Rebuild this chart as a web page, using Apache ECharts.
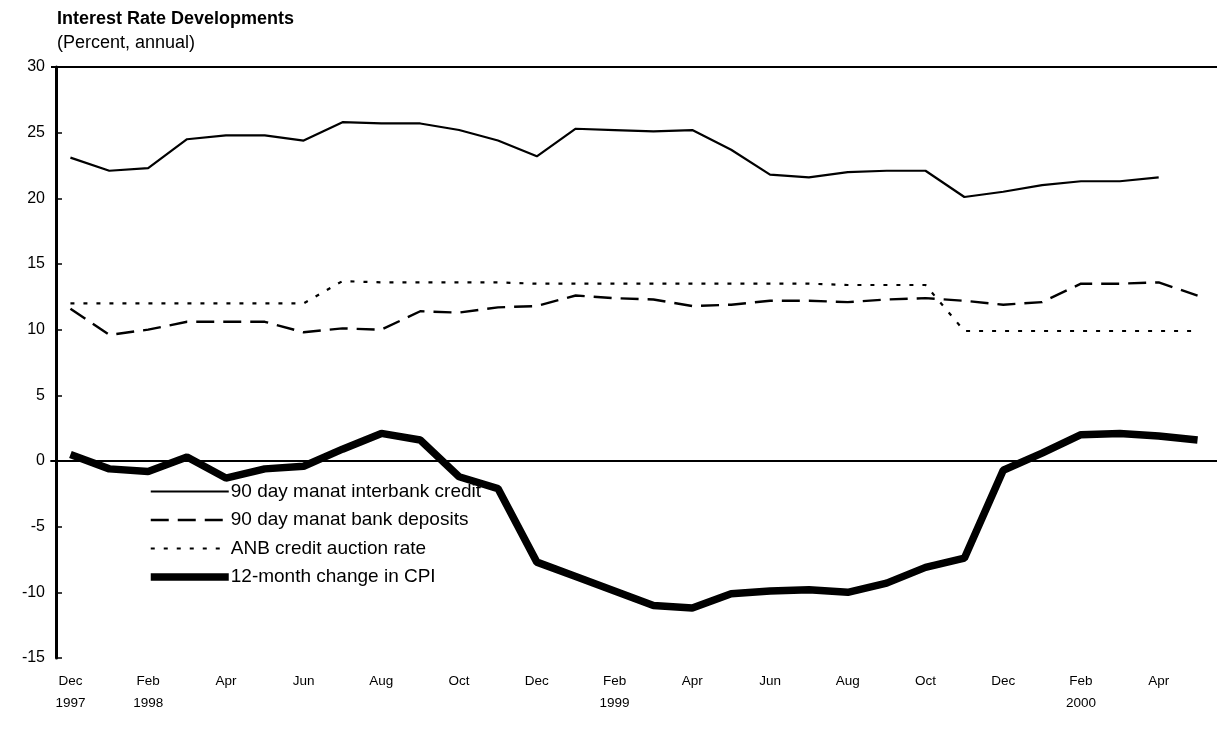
<!DOCTYPE html>
<html>
<head>
<meta charset="utf-8">
<script src="https://cdn.jsdelivr.net/npm/echarts@6/dist/echarts.min.js"></script>
<style>
  html, body { margin: 0; padding: 0; background: #fff; }
  #chart { width: 1217px; height: 731px; }
</style>
</head>
<body>
<div id="chart"></div>
<script>
// monthly, Dec 1997 - May 2000
var months = [
  "Dec\n1997", "Jan", "Feb\n1998", "Mar", "Apr", "May", "Jun", "Jul", "Aug", "Sep", "Oct", "Nov",
  "Dec", "Jan", "Feb\n1999", "Mar", "Apr", "May", "Jun", "Jul", "Aug", "Sep", "Oct", "Nov",
  "Dec", "Jan", "Feb\n2000", "Mar", "Apr", "May"
];
var interbank = [23.1, 22.1, 22.3, 24.5, 24.8, 24.8, 24.4, 25.8, 25.7, 25.7, 25.2, 24.4,
  23.2, 25.3, 25.2, 25.1, 25.2, 23.7, 21.8, 21.6, 22.0, 22.1, 22.1, 20.1,
  20.5, 21.0, 21.3, 21.3, 21.6, null];
var deposits = [11.6, 9.6, 10.0, 10.6, 10.6, 10.6, 9.8, 10.1, 10.0, 11.4, 11.3, 11.7,
  11.8, 12.6, 12.4, 12.3, 11.8, 11.9, 12.2, 12.2, 12.1, 12.3, 12.4, 12.2,
  11.9, 12.1, 13.5, 13.5, 13.6, 12.6];
var auction = [12.0, 12.0, 12.0, 12.0, 12.0, 12.0, 12.0, 13.7, 13.6, 13.6, 13.6, 13.6,
  13.5, 13.5, 13.5, 13.5, 13.5, 13.5, 13.5, 13.5, 13.4, 13.4, 13.4, 9.9,
  9.9, 9.9, 9.9, 9.9, 9.9, 9.9];
var cpi = [0.5, -0.6, -0.8, 0.3, -1.3, -0.6, -0.4, 0.9, 2.1, 1.6, -1.2, -2.1,
  -7.7, -8.8, -9.9, -11.0, -11.2, -10.1, -9.9, -9.8, -10.0, -9.3, -8.1, -7.4,
  -0.7, 0.6, 2.0, 2.1, 1.9, 1.6];
var yTicks = { min: -15, max: 30, step: 5 };
var names = ["90 day manat interbank credit", "90 day manat bank deposits",
  "ANB credit auction rate", "12-month change in CPI"];

var font = "Liberation Sans, Arial, sans-serif";
var dashed = [18, 9];
var dotted = [4, 9];

var chart = echarts.init(document.getElementById("chart"));
chart.setOption({
  animation: false,
  backgroundColor: "#fff",
  title: {
    text: "Interest Rate Developments",
    subtext: "(Percent, annual)",
    left: 52,
    top: 5,
    itemGap: 6,
    textStyle: { fontFamily: font, fontSize: 18, fontWeight: "bold", color: "#000" },
    subtextStyle: { fontFamily: font, fontSize: 18, color: "#000" }
  },
  legend: {
    orient: "vertical",
    left: 147,
    top: 482,
    padding: 0,
    itemWidth: 78,
    itemHeight: 14,
    itemGap: 9.5,
    selectedMode: false,
    itemStyle: { opacity: 0 },
    textStyle: { fontFamily: font, fontSize: 19, color: "#000", padding: [0, 0, 0, -3] },
    data: [
      { name: names[0], lineStyle: { color: "#000", width: 2.2, type: "solid" } },
      { name: names[1], lineStyle: { color: "#000", width: 2.4, type: dashed } },
      { name: names[2], lineStyle: { color: "#000", width: 2.2, type: dotted } },
      { name: names[3], lineStyle: { color: "#000", width: 7.5, type: "solid" } }
    ]
  },
  grid: { left: 51, right: 0, top: 67, bottom: 73 },
  xAxis: {
    type: "category",
    data: months,
    boundaryGap: true,
    axisLine: { lineStyle: { color: "#000", width: 1.8 } },
    axisTick: { show: false },
    axisLabel: {
      interval: 1,
      margin: 12,
      fontFamily: font,
      fontSize: 13.5,
      lineHeight: 22,
      color: "#000",
      verticalAlign: "top"
    },
    splitLine: { show: false }
  },
  yAxis: {
    type: "value",
    min: yTicks.min,
    max: yTicks.max,
    interval: yTicks.step,
    offset: -5,
    axisLine: { show: true, lineStyle: { color: "#000", width: 3 } },
    axisTick: { show: true, inside: true, length: 6, lineStyle: { color: "#000", width: 1.5 } },
    axisLabel: { margin: 11, fontFamily: font, fontSize: 16, color: "#000" },
    splitLine: { show: false }
  },
  series: [
    {
      name: names[0],
      type: "line",
      data: interbank,
      showSymbol: false,
      symbol: "none",
      color: "#000",
      lineStyle: { color: "#000", width: 2.2 },
      markLine: {
        silent: true,
        symbol: "none",
        label: { show: false },
        lineStyle: { color: "#000", width: 1.8, type: "solid" },
        data: [{ yAxis: 0 }, { yAxis: 30 }]
      }
    },
    {
      name: names[1],
      type: "line",
      data: deposits,
      showSymbol: false,
      symbol: "none",
      color: "#000",
      lineStyle: { color: "#000", width: 2.4, type: dashed }
    },
    {
      name: names[2],
      type: "line",
      data: auction,
      showSymbol: false,
      symbol: "none",
      color: "#000",
      lineStyle: { color: "#000", width: 2.2, type: dotted }
    },
    {
      name: names[3],
      type: "line",
      data: cpi,
      showSymbol: false,
      symbol: "none",
      color: "#000",
      lineStyle: { color: "#000", width: 7.5 }
    }
  ]
});
</script>
</body>
</html>
